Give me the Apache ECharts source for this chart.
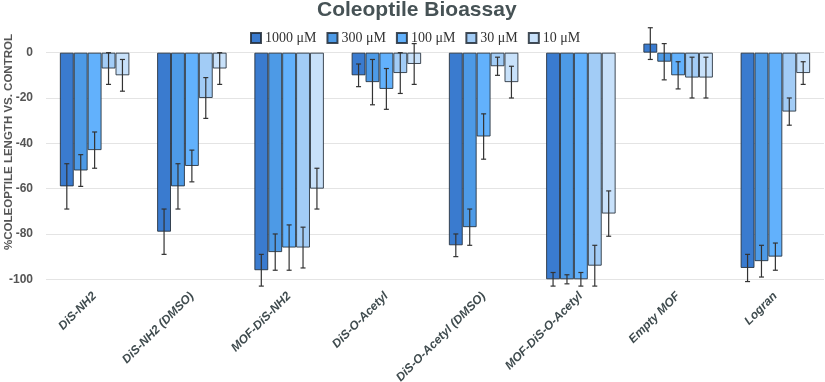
<!DOCTYPE html>
<html>
<head>
<meta charset="utf-8">
<script src="https://cdn.jsdelivr.net/npm/echarts@6/dist/echarts.min.js"></script>
<style>
  html, body { margin: 0; padding: 0; background: #fff; }
  #chart { width: 825px; height: 382px; }
</style>
</head>
<body>
<div id="chart"></div>
<script>
var categories = ['DiS-NH2', 'DiS-NH2 (DMSO)', 'MOF-DiS-NH2', 'DiS-O-Acetyl',
  'DiS-O-Acetyl (DMSO)', 'MOF-DiS-O-Acetyl', 'Empty MOF', 'Logran'];
var seriesNames = ['1000 μM', '300 μM', '100 μM', '30 μM', '10 μM'];
var yTicks = [-100, -80, -60, -40, -20, 0];

var v1000 = [-59, -79, -96, -10, -85, -100, 4, -95];
var e1000 = [10, 10, 7, 5, 5, 3, 7, 6];
var v300 = [-52, -59, -88, -13, -77, -100, -4, -92];
var e300 = [7, 10, 8, 10, 8, 2, 8, 7];
var v100 = [-43, -50, -86, -16, -37, -100, -10, -90];
var e100 = [8, 7, 10, 9, 10, 3, 6, 6];
var v30 = [-7, -20, -86, -9, -6, -94, -11, -26];
var e30 = [7, 9, 9, 9, 4, 9, 9, 6];
var v10 = [-10, -7, -60, -5, -13, -71, -11, -9];
var e10 = [7, 7, 9, 9, 7, 10, 9, 5];

var values = [v1000, v300, v100, v30, v10];
var errors = [e1000, e300, e100, e30, e10];
var colors = ['#3a7bcf', '#4d9ae6', '#62b1fc', '#a2ccf6', '#c8e1fa'];
var gapPct = 0.285;

var chart = echarts.init(document.getElementById('chart'));

// error bar data: [category, value, err, seriesIndex]
var errData = [];
values.forEach(function (arr, s) {
  arr.forEach(function (v, i) {
    errData.push([i, v, errors[s][i], s]);
  });
});

var series = values.map(function (arr, s) {
  return {
    name: seriesNames[s],
    type: 'bar',
    data: arr,
    barGap: '0%',
    barCategoryGap: (gapPct * 100) + '%',
    itemStyle: { color: colors[s], borderColor: 'rgba(35,45,55,0.85)', borderWidth: 1 }
  };
});

series.push({
  type: 'custom',
  data: errData,
  z: 10,
  silent: true,
  clip: false,
  renderItem: function (params, api) {
    var cat = api.value(0), v = api.value(1), e = api.value(2), s = api.value(3);
    var band = api.size([1, 0])[0];
    var bw = band * (1 - gapPct) / 5;
    var c = api.coord([cat, v]);
    var x = c[0] + (s - 2) * bw;
    var top = api.coord([cat, v + e])[1];
    var bot = api.coord([cat, v - e])[1];
    var st = { stroke: '#333', lineWidth: 1.2 };
    return {
      type: 'group',
      children: [
        { type: 'line', shape: { x1: x, y1: top, x2: x, y2: bot }, style: st },
        { type: 'line', shape: { x1: x - 2.5, y1: top, x2: x + 2.5, y2: top }, style: st },
        { type: 'line', shape: { x1: x - 2.5, y1: bot, x2: x + 2.5, y2: bot }, style: st }
      ]
    };
  }
});

chart.setOption({
  animation: false,
  title: {
    text: 'Coleoptile Bioassay',
    left: 317,
    top: 0,
    padding: 0,
    textStyle: { fontFamily: 'Liberation Sans', fontWeight: 'bold', fontSize: 21, color: '#465255' }
  },
  legend: {
    data: seriesNames,
    left: 245,
    top: 26,
    itemWidth: 10,
    itemHeight: 10,
    itemGap: 10,
    icon: 'rect',
    textStyle: { fontFamily: 'Liberation Serif', fontSize: 14, color: '#333', padding: [0, 0, 0, -1] }
  },
  grid: { left: 46, right: 1, top: 30, bottom: 382 - 279.3, outerBoundsMode: 'none', containLabel: false },
  xAxis: {
    type: 'category',
    data: categories,
    axisLine: { show: false },
    axisTick: { show: false },
    axisLabel: {
      rotate: 45,
      margin: 15,
      interval: 0,
      fontFamily: 'Liberation Sans',
      fontStyle: 'italic',
      fontWeight: 'bold',
      fontSize: 12,
      color: '#3f4b4e'
    }
  },
  yAxis: {
    type: 'value',
    min: yTicks[0],
    max: 10,
    interval: 20,
    axisLine: { show: false },
    axisTick: { show: false },
    splitLine: { showMaxLine: false, lineStyle: { color: '#e4e4e4' } },
    axisLabel: {
      showMaxLabel: false,
      margin: 13,
      fontFamily: 'Liberation Sans',
      fontWeight: 'bold',
      fontSize: 12,
      color: '#555'
    }
  },
  graphic: [{
    type: 'text',
    x: 9,
    y: 142,
    rotation: Math.PI / 2,
    style: {
      text: '%COLEOPTILE LENGTH VS. CONTROL',
      align: 'center',
      verticalAlign: 'middle',
      font: 'bold 11.5px "Liberation Sans"',
      fill: '#555'
    }
  }],
  series: series
});
</script>
</body>
</html>
